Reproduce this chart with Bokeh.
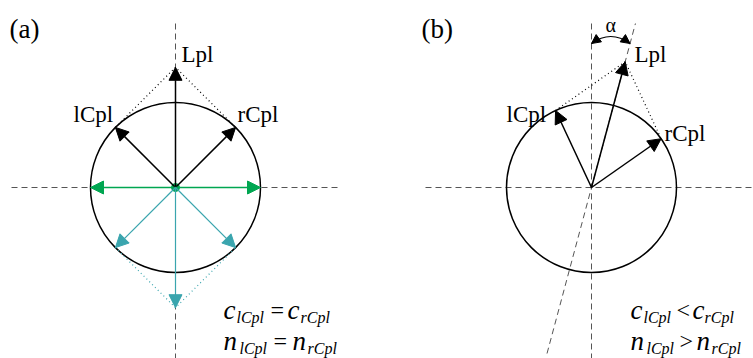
import numpy as np
from bokeh.plotting import figure
from bokeh.layouts import row
from bokeh.models import Range1d, Arrow, NormalHead
from bokeh.core.properties import value
from bokeh.embed import file_html
from bokeh.resources import INLINE

# Polarisation vectors (unit amplitude), angles in degrees measured from the vertical,
# positive towards the left.
panel_labels = ["(a)", "(b)"]
lcpl_angle = [45.0, 25.0]        # left circularly polarised component
rcpl_angle = [-45.0, -55.0]      # right circularly polarised component
lcpl_amp = [1.0, 1.0]
rcpl_amp = [1.0, 1.0]
rotation_alpha = 15.0            # optical rotation in panel (b)
# additional snapshot components in panel (a)
horiz_angles = [90.0, -90.0]     # green pair
lower_angles = [135.0, -135.0]   # teal pair
relations = [("c", "=", "n", "="), ("c", "<", "n", ">")]

R = 85.0
SERIF = "Liberation Serif"
DASH_COL = "#555555"
GREEN = "#00a651"
TEAL = "#3aa5ae"


def vec(angle_deg, amp=1.0):
    a = np.radians(angle_deg)
    return -amp * R * np.sin(a), amp * R * np.cos(a)


def arrow(p, x0, y0, x1, y1, color, size=13, width=1.5):
    p.add_layout(Arrow(x_start=x0, y_start=y0, x_end=x1, y_end=y1,
                       line_color=color, line_width=width,
                       end=NormalHead(size=size, fill_color=color, line_color=color, line_width=1)))


def label(p, x, y, txt, size=20, style="normal", align="left", color="black"):
    # nudge upward so the glyph baseline sits on y
    p.text(x=[x], y=[y], text=[txt], text_font=value(SERIF), text_font_size=f"{size}px",
           text_font_style=style, text_align=align, text_baseline="alphabetic",
           text_color=color, y_offset=-round(0.38 * size))


def make_panel(width, cx):
    p = figure(width=width, height=358, output_backend="svg", toolbar_location=None,
               x_range=Range1d(-cx, width - cx), y_range=Range1d(-171, 187),
               min_border=0, outline_line_color=None, background_fill_color="white",
               border_fill_color="white")
    p.axis.visible = False
    p.grid.visible = False
    return p


def equation(p, x0, y0, rel, xs):
    # main letters and subscripts laid out left to right
    big, sym1, big2, sym2 = rel
    for (txt, kind), x in zip([(big, "m"), ("lCpl", "s"), (sym1, "r"), (big, "m"), ("rCpl", "s")], xs):
        if kind == "m":
            label(p, x0 + x, y0, txt, size=27, style="italic")
        elif kind == "s":
            label(p, x0 + x, y0 - 4, txt, size=16, style="italic")
        else:
            label(p, x0 + x, y0 + 1, txt, size=24)


# ---------------- panel (a) ----------------
pa = make_panel(376, 175)
pa.line([-164, 165], [0, 0], line_color=DASH_COL, line_dash="6 4", line_width=1)
pa.line([0, 0], [164, -171], line_color=DASH_COL, line_dash="6 4", line_width=1)
pa.circle(x=[0], y=[0], radius=R, fill_color=None, line_color="black", line_width=1.5)

lx, ly = vec(lcpl_angle[0], lcpl_amp[0])
rx, ry = vec(rcpl_angle[0], rcpl_amp[0])
sx, sy = lx + rx, ly + ry
pa.line([lx, sx, rx], [ly, sy, ry], line_color="black", line_dash="1 3", line_width=1.2)
for (x, y) in [(lx, ly), (rx, ry), (sx, sy)]:
    arrow(pa, 0, 0, x, y, "black")

for a in horiz_angles:
    x, y = vec(a)
    arrow(pa, 0, 0, x, y, GREEN, width=1.5)

l2x, l2y = vec(lower_angles[0])
r2x, r2y = vec(lower_angles[1])
s2x, s2y = l2x + r2x, l2y + r2y
pa.line([l2x, s2x, r2x], [l2y, s2y, r2y], line_color=TEAL, line_dash="1 3", line_width=1.2)
for (x, y) in [(l2x, l2y), (r2x, r2y), (s2x, s2y)]:
    arrow(pa, 0, 0, x, y, TEAL, width=1.2)
pa.scatter([0], [0], size=8, color=GREEN)

label(pa, -166, 149, panel_labels[0], size=27)
label(pa, 6, 124, "Lpl", size=23)
label(pa, -102, 64, "lCpl", size=23)
label(pa, 62, 64, "rCpl", size=23)
equation(pa, 48, -132, relations[0][:2] + relations[0][:2], [0, 13, 47, 64, 77])
equation(pa, 48, -163, relations[0][2:] + relations[0][2:], [0, 16, 50, 69, 84])

# ---------------- panel (b) ----------------
pb = make_panel(377, 215)
pb.line([-166, 162], [0, 0], line_color=DASH_COL, line_dash="6 4", line_width=1)
pb.line([0, 0], [164, -171], line_color=DASH_COL, line_dash="6 4", line_width=1)
t = np.tan(np.radians(rotation_alpha))
pb.line([-166 * t, 164 * t], [-166, 164], line_color=DASH_COL, line_dash="6 4", line_width=1)
pb.circle(x=[0], y=[0], radius=R, fill_color=None, line_color="black", line_width=1.5)

lx, ly = vec(lcpl_angle[1], lcpl_amp[1])
rx, ry = vec(rcpl_angle[1], rcpl_amp[1])
sx, sy = lx + rx, ly + ry
pb.line([lx, sx, rx], [ly, sy, ry], line_color="black", line_dash="1 3", line_width=1.2)
for (x, y) in [(lx, ly), (rx, ry), (sx, sy)]:
    arrow(pb, 0, 0, x, y, "black")

# rotation angle marker between the vertical and the rotated axis
ay = 144.0
p0 = (0.0, ay)
p2 = (ay * t, ay)
c = (p2[0] / 2, ay + 14)
pb.quadratic(x0=[p0[0]], y0=[p0[1]], x1=[p2[0]], y1=[p2[1]], cx=[c[0]], cy=[c[1]],
             line_color="black", line_width=1.2)
for (px, py) in [p0, p2]:
    dx, dy = px - c[0], py - c[1]
    n = np.hypot(dx, dy)
    pb.add_layout(Arrow(x_start=px - 4 * dx / n, y_start=py - 4 * dy / n, x_end=px, y_end=py,
                        line_alpha=0, end=NormalHead(size=9, fill_color="black", line_color="black")))
label(pb, c[0], 155, "α", size=20, align="center")

label(pb, -170, 149, panel_labels[1], size=27)
label(pb, 43, 124, "Lpl", size=23)
label(pb, -85, 64, "lCpl", size=23)
label(pb, 73, 45, "rCpl", size=23)
equation(pb, 39, -132, relations[1][:2] + relations[1][:2], [0, 13, 46, 62, 74])
equation(pb, 39, -163, relations[1][2:] + relations[1][2:], [0, 16, 49, 66, 81])

layout = row(pa, pb, spacing=0)
open("out.html", "w").write(file_html(layout, INLINE))
